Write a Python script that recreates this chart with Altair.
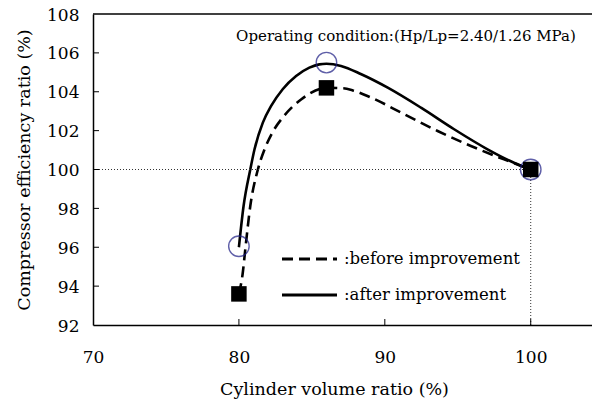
import altair as alt
import pandas as pd

# ---- data ----
marker_x = [80, 86, 100]
before_marker_y = [93.6, 104.2, 100.0]
after_marker_y = [96.05, 105.5, 100.0]

after_curve_x = [80.0, 80.32, 80.78, 81.07, 81.64, 82.21, 83.0, 83.92, 84.83, 85.51, 86.0, 87.0, 88.39, 90.2, 92.48, 94.75, 97.04, 98.85, 100.0]
after_curve_y = [96.0, 98.12, 100.0, 101.04, 102.41, 103.27, 104.13, 104.81, 105.24, 105.41, 105.44, 105.33, 104.9, 104.21, 103.18, 102.07, 101.04, 100.35, 100.0]

before_curve_x = [80.0, 80.25, 80.46, 80.78, 81.3, 81.76, 82.33, 83.01, 84.26, 86.0, 87.13, 87.81, 89.06, 91.34, 93.62, 95.9, 98.17, 100.0]
before_curve_y = [93.6, 94.6, 96.05, 98.12, 100.0, 101.04, 101.95, 102.68, 103.6, 104.2, 104.18, 104.07, 103.7, 102.84, 101.98, 101.21, 100.52, 100.0]

legend_labels = [":before improvement", ":after improvement"]
y_ticks = [94, 96, 98, 100, 102, 104, 106]
x_ticks = [80, 90, 100]
x_label_values = [70, 80, 90, 100]
y_label_values = [92, 94, 96, 98, 100, 102, 104, 106, 108]
annotation = "Operating condition:(Hp/Lp=2.40/1.26 MPa)"
annotation_x = 91.45
annotation_y = 106.87

FONT = "DejaVu Serif"
W, H = 499, 311

before_df = pd.DataFrame({"x": before_curve_x, "y": before_curve_y, "order": range(len(before_curve_x))})
after_df = pd.DataFrame({"x": after_curve_x, "y": after_curve_y, "order": range(len(after_curve_x))})
markers_before = pd.DataFrame({"x": marker_x, "y": before_marker_y})
markers_after = pd.DataFrame({"x": marker_x, "y": after_marker_y})

xscale = alt.Scale(domain=[70, 104.2], nice=False, zero=False)
yscale = alt.Scale(domain=[92, 108], nice=False, zero=False)

xaxis = alt.Axis(values=x_label_values, title="Cylinder volume ratio (%)", ticks=False, grid=False,
                 domainColor="black", domainWidth=1.5, labelFont=FONT, labelFontSize=17,
                 labelColor="black", labelPadding=24, labelOverlap=False, titleFont=FONT, titleFontSize=17.5,
                 titleFontWeight="normal", titleColor="black", titlePadding=15, labelFlush=False,
                 titleX=241)
yaxis = alt.Axis(values=y_label_values, title="Compressor efficiency ratio (%)", ticks=False, grid=False,
                 domainColor="black", domainWidth=1.5, labelFont=FONT, labelFontSize=17,
                 labelColor="black", labelPadding=14, labelOverlap=False, labelOffset=1,
                 titleFont=FONT, titleFontSize=17.5,
                 titleFontWeight="normal", titleColor="black", titlePadding=13, labelFlush=False)

def X0():
    return alt.X("x:Q", scale=xscale, axis=xaxis)

def Y0():
    return alt.Y("y:Q", scale=yscale, axis=yaxis)

line_before = alt.Chart(before_df).mark_line(color="black", strokeWidth=2.6, strokeDash=[11, 6],
                                             interpolate="monotone").encode(
    x=X0(), y=Y0(), order="order:Q")
line_after = alt.Chart(after_df).mark_line(color="black", strokeWidth=2.6, interpolate="monotone").encode(
    x=X0(), y=Y0(), order="order:Q")

circles = alt.Chart(markers_after).mark_point(shape="circle", filled=False, size=420,
                                              stroke="#1c1c84", strokeWidth=1.4).encode(x=X0(), y=Y0())
squares = alt.Chart(markers_before).mark_point(shape="square", filled=True, size=240,
                                               color="black", opacity=1).encode(x=X0(), y=Y0())

one = pd.DataFrame({"a": [0]})
hdot = alt.Chart(one).mark_rule(color="#333", strokeWidth=1, strokeDash=[1, 2]).encode(
    x=alt.XDatum(70, scale=xscale, axis=xaxis), x2=alt.datum(100),
    y=alt.YDatum(100, scale=yscale, axis=yaxis))
vdot = alt.Chart(one).mark_rule(color="#333", strokeWidth=1, strokeDash=[1, 2]).encode(
    x=alt.XDatum(100, scale=xscale, axis=xaxis),
    y=alt.YDatum(92, scale=yscale, axis=yaxis), y2=alt.datum(100))

ytick_rules = alt.Chart(pd.DataFrame({"y": y_ticks})).mark_rule(color="black", strokeWidth=1).encode(
    y=Y0(), x=alt.value(0), x2=alt.value(6))
xtick_rules = alt.Chart(pd.DataFrame({"x": x_ticks})).mark_rule(color="black", strokeWidth=1).encode(
    x=X0(), y=alt.value(H), y2=alt.value(H - 6))
top_border = alt.Chart(one).mark_rule(color="black", strokeWidth=1.5).encode(
    y=alt.YDatum(108, scale=yscale, axis=yaxis), x=alt.value(0), x2=alt.value(W))

note = alt.Chart(pd.DataFrame({"x": [annotation_x], "y": [annotation_y], "t": [annotation]})).mark_text(
    font=FONT, fontSize=15, color="black", align="center", baseline="middle").encode(
    x=X0(), y=Y0(), text="t:N")

# manual legend (placed in pixel space inside the plot)
leg_dash = alt.Chart(one).mark_rule(color="black", strokeWidth=3, strokeDash=[11, 6]).encode(
    x=alt.value(189), x2=alt.value(244), y=alt.value(245))
leg_solid = alt.Chart(one).mark_rule(color="black", strokeWidth=3).encode(
    x=alt.value(189), x2=alt.value(244), y=alt.value(281))
leg_t1 = alt.Chart(pd.DataFrame({"t": [legend_labels[0]]})).mark_text(
    font=FONT, fontSize=16.5, color="black", align="left", baseline="middle").encode(
    x=alt.value(251), y=alt.value(245), text="t:N")
leg_t2 = alt.Chart(pd.DataFrame({"t": [legend_labels[1]]})).mark_text(
    font=FONT, fontSize=16.5, color="black", align="left", baseline="middle").encode(
    x=alt.value(251), y=alt.value(281), text="t:N")

chart = alt.layer(line_before, line_after, hdot, vdot, ytick_rules, xtick_rules, top_border,
                  circles, squares, note, leg_dash, leg_solid, leg_t1, leg_t2).properties(
    width=W, height=H,
    autosize=alt.AutoSizeParams(type="none"),
    padding={"left": 85, "top": 6, "right": 0, "bottom": 75},
).configure_view(stroke=None)

chart.save("out.html", embed_options={"renderer": "svg", "actions": False})
